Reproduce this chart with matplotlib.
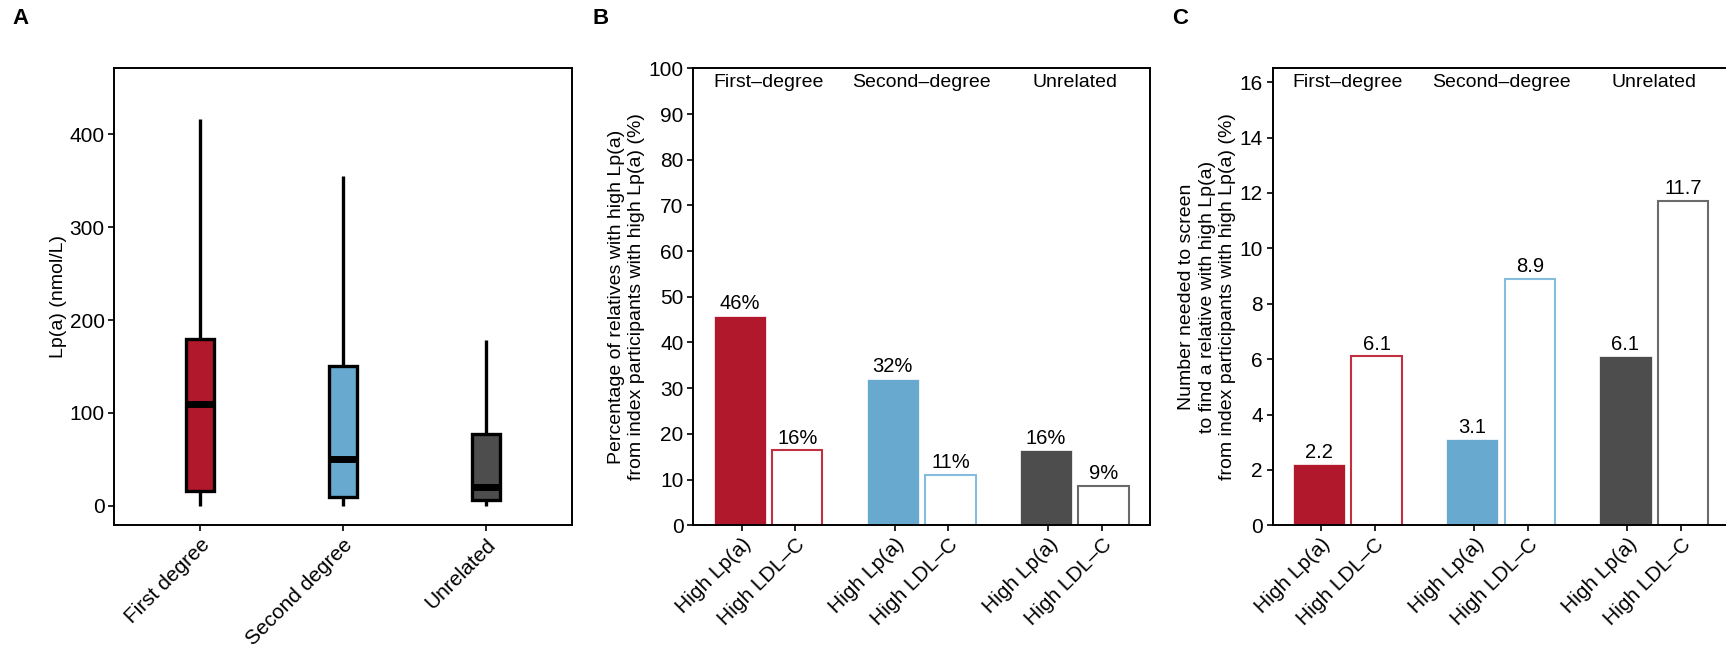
import numpy as np
import matplotlib.pyplot as plt
import matplotlib.transforms as mtransforms

plt.rcParams['font.family'] = ['Liberation Sans', 'DejaVu Sans']

groups = ['First degree', 'Second degree', 'Unrelated']
group_titles = ['First–degree', 'Second–degree', 'Unrelated']
bar_names = ['High Lp(a)', 'High LDL–C']
colors = ['#B2182B', '#67A9CF', '#4D4D4D']
edge_colors = ['#C22F40', '#86BCDD', '#6A6A6A']

# panel A: Lp(a) distribution (nmol/L)
lpa_low = [0, 0, 0]
lpa_q1 = [16, 10, 6]
lpa_med = [110, 50, 20]
lpa_q3 = [180, 150, 77]
lpa_high = [416, 355, 178]

# panel B: % relatives with high Lp(a)
pct_lpa = [45.9, 32.1, 16.4]
pct_ldl = [16.4, 11.1, 8.6]

# panel C: number needed to screen
nns_lpa = [2.2, 3.1, 6.1]
nns_ldl = [6.1, 8.9, 11.7]

W, H = 1726, 649
fig = plt.figure(figsize=(W / 100, H / 100), dpi=100)

bot = 1 - 525.3 / H
hgt = 457.0 / H
axA = fig.add_axes([114.3 / W, bot, 457.4 / W, hgt])
axB = fig.add_axes([693.3 / W, bot, 456.7 / W, hgt])
axC = fig.add_axes([1272.7 / W, bot, 456.7 / W, hgt])

for ax in (axA, axB, axC):
    for s in ax.spines.values():
        s.set_linewidth(1.4)
    ax.tick_params(direction='out', length=4, width=1.2, labelsize=15, pad=3)

# ---- A: boxplot
stats = []
for i in range(3):
    stats.append(dict(whislo=lpa_low[i], q1=lpa_q1[i], med=lpa_med[i],
                      q3=lpa_q3[i], whishi=lpa_high[i], fliers=[]))
bp = axA.bxp(stats, positions=[1, 2, 3], widths=0.2, patch_artist=True,
             showcaps=False, showfliers=False,
             boxprops=dict(linewidth=2.4, edgecolor='black'),
             whiskerprops=dict(linewidth=2.4, color='black', solid_capstyle='butt'),
             medianprops=dict(linewidth=5, color='black', solid_capstyle='butt'))
for patch, c in zip(bp['boxes'], colors):
    patch.set_facecolor(c)
for w in bp['whiskers']:
    w.set_zorder(1)
axA.set_xlim(0.4, 3.6)
axA.set_ylim(-21, 471)
axA.set_yticks([0, 100, 200, 300, 400])
axA.set_xticks([1, 2, 3])
axA.set_xticklabels(groups, rotation=45, ha='right', va='top', rotation_mode='anchor')


# ---- B and C: grouped bars
def grouped(ax, v1, v2, fmt, ymax, yticks):
    x = np.arange(3)
    b1 = ax.bar(x - 0.188, v1, width=0.34, color=colors, edgecolor='white', linewidth=0.5)
    b2 = ax.bar(x + 0.188, v2, width=0.33, facecolor='white', edgecolor=edge_colors, linewidth=1.5)
    ax.bar_label(b1, labels=[fmt(v) for v in v1], padding=2, fontsize=14.5)
    ax.bar_label(b2, labels=[fmt(v) for v in v2], padding=2, fontsize=14.5)
    ax.set_xlim(-0.49, 2.49)
    ax.set_ylim(0, ymax)
    ax.set_yticks(yticks)
    ticks = np.concatenate([x - 0.175, x + 0.175])
    ticks.sort()
    ax.set_xticks(ticks)
    ax.set_xticklabels(bar_names * 3, rotation=45, ha='right', va='top',
                       rotation_mode='anchor')
    trans = mtransforms.blended_transform_factory(ax.transData, ax.transAxes)
    for i, t in enumerate(group_titles):
        ax.text(i, 0.969, t, transform=trans, ha='center', va='center', fontsize=14)


grouped(axB, pct_lpa, pct_ldl, lambda v: f"{round(v)}%", 100, np.arange(0, 101, 10))
grouped(axC, nns_lpa, nns_ldl, lambda v: f"{v:.1f}", 16.5, np.arange(0, 17, 2))

# y labels
fig.text(58 / W, 1 - 297 / H, 'Lp(a) (nmol/L)', rotation=90, ha='center', va='center', fontsize=14)
fig.text(626.5 / W, 1 - 297 / H,
         'Percentage of relatives with high Lp(a)\nfrom index participants with high Lp(a) (%)',
         rotation=90, ha='center', va='center', fontsize=14, linespacing=1.3)
fig.text(1207 / W, 1 - 297 / H,
         'Number needed to screen\nto find a relative with high Lp(a)\nfrom index participants with high Lp(a) (%)',
         rotation=90, ha='center', va='center', fontsize=14, linespacing=1.3)

# panel letters
for lx, letter in [(12.5, 'A'), (592, 'B'), (1172, 'C')]:
    fig.text(lx / W, 1 - 8 / H, letter, ha='left', va='top', fontsize=16, fontweight='bold')

fig.savefig('out.png', dpi=100)
